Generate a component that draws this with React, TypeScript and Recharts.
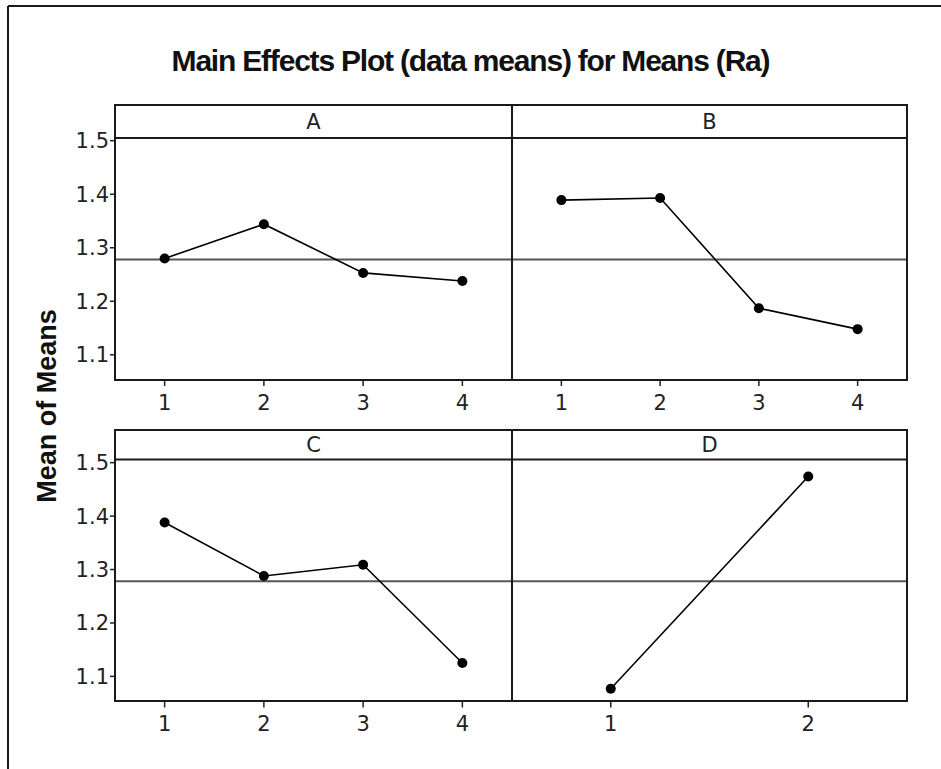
import React from "react";
import { LineChart, Line, XAxis, YAxis, ReferenceLine } from "recharts";

// ---- data ----
const levels4 = [1, 2, 3, 4];
const levels2 = [1, 2];
const meansA = [1.28, 1.344, 1.253, 1.238];
const meansB = [1.389, 1.393, 1.187, 1.148];
const meansC = [1.388, 1.288, 1.309, 1.125];
const meansD = [1.077, 1.474];
const grandMean = 1.278;
const yTicks = [1.1, 1.2, 1.3, 1.4, 1.5];
const yDomain: [number, number] = [1.053, 1.505];
const titleText = "Main Effects Plot (data means) for Means (Ra)";
const yLabel = "Mean of Means";

const TICK_FONT = "'DejaVu Sans', 'Liberation Sans', sans-serif";
const YW = 60;
const XH = 44;
const TM = 20; // extra top margin so tick labels never get clamped

type PanelProps = {
  left: number;
  right: number;
  stripTop: number;
  stripBottom: number;
  plotBottom: number;
  label: string;
  levels: number[];
  means: number[];
  showY: boolean;
};

function Panel(p: PanelProps) {
  const data = p.levels.map((l, i) => ({ x: l, y: p.means[i] }));
  const plotW = p.right - p.left;
  const plotH = p.plotBottom - p.stripBottom;
  const chartLeft = p.showY ? p.left - YW : p.left;
  const chartW = p.showY ? plotW + YW : plotW;
  return (
    <>
      <div style={{ position: "absolute", left: chartLeft, top: p.stripBottom - TM }}>
        <LineChart
          width={chartW}
          height={plotH + XH + TM}
          data={data}
          margin={{ top: TM, right: 0, bottom: 0, left: 0 }}
        >
          <XAxis
            dataKey="x"
            type="number"
            domain={[0.5, p.levels.length + 0.5]}
            ticks={p.levels}
            interval={0}
            allowDataOverflow
            axisLine={false}
            tickLine={{ stroke: "#222", strokeWidth: 1.5 }}
            tickSize={6}
            tickMargin={9}
            height={XH}
            tick={{ fill: "#222", fontSize: 21, fontFamily: TICK_FONT }}
          />
          <YAxis
            type="number"
            domain={yDomain}
            ticks={yTicks}
            interval={0}
            allowDataOverflow
            hide={!p.showY}
            width={YW}
            axisLine={false}
            tickLine={{ stroke: "#222", strokeWidth: 1.5 }}
            tickSize={5}
            tickMargin={1}
            tickFormatter={(v: number) => v.toFixed(1)}
            tick={{ fill: "#222", fontSize: 21, fontFamily: TICK_FONT }}
          />
          <ReferenceLine y={grandMean} stroke="#555" strokeWidth={2} />
          <Line
            type="linear"
            dataKey="y"
            stroke="#000"
            strokeWidth={1.6}
            dot={{ r: 5, fill: "#000", stroke: "#000", strokeWidth: 0 }}
            isAnimationActive={false}
          />
        </LineChart>
      </div>
      <div
        style={{
          position: "absolute",
          left: p.left,
          top: p.stripTop,
          width: plotW,
          height: p.stripBottom - p.stripTop,
          background: "#fff",
          display: "flex",
          alignItems: "center",
          justifyContent: "center",
          fontFamily: TICK_FONT,
          fontSize: 21,
          color: "#222",
        }}
      >
        {p.label}
      </div>
      <svg
        width={941}
        height={769}
        style={{ position: "absolute", left: 0, top: 0, pointerEvents: "none" }}
      >
        <rect
          x={p.left}
          y={p.stripTop}
          width={plotW}
          height={p.plotBottom - p.stripTop}
          fill="none"
          stroke="#1a1a1a"
          strokeWidth={2}
        />
        <line x1={p.left} x2={p.right} y1={p.stripBottom} y2={p.stripBottom} stroke="#1a1a1a" strokeWidth={2} />
      </svg>
    </>
  );
}

export default function App() {
  return (
    <div
      style={{
        position: "absolute",
        left: 0,
        top: 0,
        width: 941,
        height: 769,
        overflow: "hidden",
        background: "#fff",
      }}
    >
      <svg width={941} height={769} style={{ position: "absolute", left: 0, top: 0 }}>
        <line x1={8} x2={941} y1={6} y2={6} stroke="#1a1a1a" strokeWidth={2} />
        <line x1={8} x2={8} y1={6} y2={769} stroke="#1a1a1a" strokeWidth={2} />
      </svg>
      <div
        style={{
          position: "absolute",
          left: 0,
          width: 941,
          top: 43,
          textAlign: "center",
          fontFamily: "'Liberation Sans', Arial, sans-serif",
          fontWeight: "bold",
          fontSize: 30,
          letterSpacing: -1.2,
          color: "#111",
          lineHeight: "36px",
        }}
      >
        {titleText}
      </div>
      <div
        style={{
          position: "absolute",
          left: 47,
          top: 406,
          transform: "translate(-50%, -50%) rotate(-90deg)",
          whiteSpace: "nowrap",
          fontFamily: "'Liberation Sans', Arial, sans-serif",
          fontWeight: "bold",
          fontSize: 27,
          color: "#111",
        }}
      >
        {yLabel}
      </div>
      <Panel left={115} right={512} stripTop={105} stripBottom={138} plotBottom={380} label="A" levels={levels4} means={meansA} showY />
      <Panel left={512} right={907} stripTop={105} stripBottom={138} plotBottom={380} label="B" levels={levels4} means={meansB} showY={false} />
      <Panel left={115} right={512} stripTop={430} stripBottom={459.5} plotBottom={701} label="C" levels={levels4} means={meansC} showY />
      <Panel left={512} right={907} stripTop={430} stripBottom={459.5} plotBottom={701} label="D" levels={levels2} means={meansD} showY={false} />
    </div>
  );
}
